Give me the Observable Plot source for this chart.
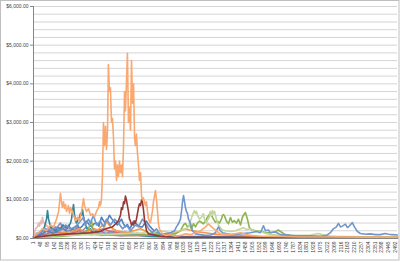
<!DOCTYPE html>
<html>
<head>
<meta charset="utf-8">
<script src="https://cdn.jsdelivr.net/npm/d3@7"></script>
<script src="https://cdn.jsdelivr.net/npm/@observablehq/plot@0.6"></script>
<style>
  html, body { margin: 0; padding: 0; background: #ffffff; }
  #chart { width: 400px; height: 262px; }
</style>
</head>
<body>
<div id="chart"></div>
<script>
// ---- Data: [category, value] pairs ----
const categoryCount = 2505;
const xTickLabels = [1,48,95,142,189,236,283,330,377,424,471,518,565,612,659,706,753,800,847,894,941,988,1035,1082,1129,1176,1223,1270,1317,1364,1411,1458,1505,1552,1599,1646,1693,1740,1787,1834,1881,1928,1975,2022,2069,2116,2163,2210,2257,2304,2351,2398,2445,2492];
const yTickLabels = [0,1000,2000,3000,4000,5000,6000];
const yGridValues = [200,400,600,800,1000,1200,1400,1600,1800,2000,2200,2400,2600,2800,3000,3200,3400,3600,3800,4000,4200,4400,4600,4800,5000,5200,5400,5600,5800,6000];

const paleBlue = [[1,40],[21,70],[42,110],[63,90],[84,140],[105,80],[126,120],[147,90],[168,160],[189,110],[210,150],[231,100],[252,130],[273,90],[294,140],[315,110],[336,160],[357,100],[378,130],[399,80],[420,120],[441,90],[462,140],[483,100],[504,120],[525,80],[546,130],[567,90],[588,110],[609,70],[630,100],[651,80],[672,110],[693,70],[735,90],[777,60],[819,70],[874,50],[1012,40],[1562,30],[2505,20]];
const lavender = [[1,80],[21,150],[42,120],[63,200],[84,160],[105,250],[126,180],[147,220],[168,150],[189,260],[210,200],[231,300],[252,180],[273,240],[294,160],[315,260],[336,200],[357,150],[378,230],[399,180],[420,250],[441,170],[462,210],[483,140],[504,200],[525,160],[546,230],[567,140],[588,180],[609,120],[630,200],[651,150],[672,180],[693,110],[714,150],[735,100],[756,140],[777,90],[798,120],[819,80],[840,100],[861,60],[900,50],[1012,40],[1562,30],[2505,20]];
const aqua = [[1,60],[21,120],[42,90],[63,180],[84,130],[105,100],[126,170],[147,120],[168,220],[189,150],[210,200],[231,130],[252,250],[273,180],[294,280],[315,150],[336,200],[357,120],[378,230],[399,160],[420,120],[441,190],[462,140],[483,200],[504,130],[525,170],[546,100],[567,150],[588,90],[609,140],[630,170],[651,100],[672,130],[693,80],[714,110],[735,70],[777,90],[819,60],[874,50],[1149,40],[2505,20]];
const pink = [[1,100],[14,250],[28,300],[35,400],[42,320],[49,450],[56,380],[62,550],[69,420],[76,400],[83,300],[90,350],[104,280],[118,320],[133,220],[152,260],[168,180],[186,300],[203,200],[221,250],[245,170],[269,210],[296,140],[324,200],[351,120],[379,150],[420,100],[461,80],[530,90],[599,60],[700,70],[805,40],[2505,20]];
const purple = [[1,40],[21,100],[35,150],[49,120],[62,250],[76,180],[90,200],[104,150],[118,300],[135,220],[152,250],[170,320],[186,400],[200,280],[214,300],[228,220],[241,350],[255,260],[269,250],[286,200],[303,300],[320,220],[338,200],[358,280],[379,250],[400,180],[420,150],[440,220],[461,200],[482,150],[503,120],[527,180],[551,150],[578,120],[606,100],[637,140],[668,120],[700,90],[737,80],[770,70],[805,60],[943,40],[2505,20]];
const red = [[1,30],[35,80],[76,100],[110,150],[152,180],[196,140],[241,120],[280,160],[317,200],[358,130],[400,150],[440,200],[482,250],[515,200],[551,180],[590,140],[633,120],[690,130],[737,100],[800,80],[874,60],[1149,40],[2505,25]];
const teal = [[1,50],[35,100],[49,150],[62,200],[76,300],[83,400],[90,500],[97,720],[104,500],[111,400],[118,300],[135,250],[152,200],[170,280],[186,250],[203,350],[221,300],[238,280],[255,400],[262,500],[269,700],[276,880],[283,600],[290,450],[296,400],[303,450],[310,500],[317,550],[324,650],[331,600],[338,750],[345,550],[351,450],[358,350],[368,280],[379,200],[393,250],[406,150],[430,180],[461,100],[530,120],[599,80],[700,90],[805,60],[1149,40],[2505,30]];
const blueDark = [[1,40],[35,80],[62,120],[83,180],[104,200],[128,140],[152,150],[180,230],[207,250],[230,180],[255,200],[280,280],[303,350],[317,260],[331,300],[348,380],[365,450],[383,360],[400,300],[417,380],[434,400],[451,320],[468,550],[482,460],[496,400],[510,480],[523,600],[537,520],[551,450],[565,400],[578,350],[592,430],[606,500],[620,380],[633,300],[647,360],[661,250],[675,330],[689,450],[702,400],[716,350],[733,300],[750,300],[764,380],[778,450],[792,360],[805,300],[819,240],[833,200],[847,160],[860,120],[909,80],[1012,60],[1184,50],[1562,40],[2505,30]];
const orange = [[1,20],[62,60],[118,80],[160,120],[207,150],[250,180],[290,200],[317,260],[345,150],[380,200],[413,250],[445,220],[475,350],[490,300],[503,450],[516,380],[530,300],[550,250],[572,200],[605,180],[640,150],[690,200],[737,250],[765,200],[792,150],[830,130],[874,100],[920,120],[977,150],[1012,200],[1046,250],[1074,220],[1101,200],[1140,170],[1184,150],[1230,120],[1287,100],[1390,80],[1493,60],[2505,30]];
const green = [[1,30],[186,50],[324,100],[379,250],[393,400],[400,460],[406,300],[420,150],[461,100],[668,80],[874,100],[977,120],[1012,200],[1033,350],[1046,390],[1060,300],[1074,350],[1088,250],[1101,380],[1115,300],[1129,400],[1143,450],[1156,420],[1170,380],[1184,450],[1198,550],[1211,620],[1218,680],[1225,600],[1239,500],[1253,420],[1266,450],[1280,400],[1294,500],[1301,600],[1308,620],[1315,580],[1328,450],[1342,380],[1356,540],[1369,420],[1383,460],[1397,400],[1411,500],[1425,350],[1438,550],[1452,640],[1459,670],[1473,500],[1486,280],[1500,230],[1528,200],[1562,200],[1597,150],[1631,150],[1666,180],[1686,220],[1700,180],[1734,100],[1769,80],[1837,60],[2044,50],[2505,40]];
const lightGreen = [[1,30],[186,80],[393,100],[599,120],[805,150],[874,200],[943,150],[1012,200],[1046,250],[1067,300],[1081,450],[1094,600],[1108,720],[1115,650],[1122,700],[1129,600],[1143,500],[1156,550],[1170,640],[1177,500],[1191,400],[1198,470],[1211,550],[1218,700],[1225,600],[1232,720],[1239,640],[1246,700],[1253,600],[1259,500],[1273,350],[1287,280],[1301,220],[1321,200],[1356,180],[1390,200],[1425,250],[1445,280],[1466,230],[1493,250],[1528,180],[1562,200],[1583,150],[1631,100],[1700,80],[1769,60],[1837,80],[1906,90],[1961,130],[1989,100],[2044,60],[2113,40],[2505,30]];
const blue = [[1,50],[49,150],[83,250],[118,200],[152,300],[186,200],[221,350],[255,250],[290,300],[324,450],[345,550],[358,350],[379,500],[393,400],[413,600],[434,350],[461,450],[482,300],[503,500],[530,350],[558,500],[585,400],[613,250],[640,350],[668,200],[702,350],[723,300],[750,500],[771,400],[792,250],[819,150],[847,250],[874,100],[909,120],[943,150],[971,200],[984,300],[998,380],[1012,500],[1019,700],[1026,950],[1033,1110],[1040,950],[1046,800],[1053,700],[1060,650],[1067,500],[1074,450],[1081,380],[1088,300],[1094,200],[1115,120],[1149,100],[1184,80],[1218,90],[1253,150],[1273,300],[1287,200],[1301,150],[1356,100],[1425,120],[1493,150],[1535,180],[1562,150],[1583,330],[1597,200],[1617,220],[1631,150],[1666,170],[1700,100],[1769,80],[1837,70],[1906,70],[1975,60],[2017,80],[2044,150],[2064,250],[2085,300],[2099,390],[2113,300],[2126,320],[2147,370],[2161,280],[2175,330],[2195,410],[2209,300],[2230,180],[2250,130],[2285,110],[2319,120],[2354,100],[2388,100],[2422,130],[2443,110],[2470,100],[2505,90]];
const darkRed = [[1,30],[118,80],[255,120],[393,150],[461,180],[496,250],[544,300],[572,400],[585,460],[599,600],[606,800],[613,750],[620,950],[627,900],[633,1100],[640,1000],[647,850],[654,700],[661,500],[668,450],[675,350],[682,400],[689,350],[696,450],[702,400],[709,500],[716,650],[723,800],[730,900],[737,850],[744,1000],[750,950],[757,750],[764,500],[771,350],[778,200],[792,120],[819,100],[874,60],[943,40],[1149,30],[2505,20]];
const lightOrange = [[1,50],[35,150],[62,250],[90,200],[118,350],[138,300],[159,500],[173,700],[179,900],[186,1170],[193,950],[200,800],[207,950],[214,780],[221,880],[228,700],[241,850],[248,650],[255,800],[269,700],[276,600],[290,460],[303,550],[317,450],[331,700],[345,1030],[351,850],[365,700],[379,770],[393,600],[406,640],[420,560],[434,700],[448,800],[455,950],[461,850],[468,1000],[475,1600],[482,3000],[489,2400],[496,2900],[503,2300],[510,2800],[516,4500],[523,3800],[530,3900],[537,3000],[544,3100],[551,2600],[558,1800],[565,2000],[572,1500],[578,1900],[585,1600],[592,2000],[599,1700],[606,1900],[613,1600],[620,2400],[627,3800],[633,3300],[640,4000],[647,4790],[654,3000],[661,3400],[668,2800],[675,4600],[682,3500],[689,4000],[696,2600],[702,2400],[709,2700],[716,2200],[723,1900],[730,1500],[737,1700],[744,1100],[750,1000],[757,1050],[771,850],[778,950],[785,700],[792,500],[805,400],[812,550],[819,700],[826,950],[833,1100],[840,1240],[847,1000],[854,700],[860,400],[867,250],[874,200],[888,120],[909,80],[943,100],[977,60],[1012,80],[1046,120],[1081,100],[1115,150],[1149,200],[1184,300],[1204,380],[1232,280],[1259,200],[1287,120],[1356,100],[1425,150],[1493,80],[1562,60],[1700,50],[1837,40],[2044,40],[2250,35],[2505,35]];

// ---- Styles (drawing order: first drawn = bottom) ----
const seriesStyles = [
  [paleBlue, "#B9CDE5"],
  [lavender, "#CCC1DA"],
  [aqua, "#93CDDD"],
  [pink, "#E6B9B8"],
  [purple, "#9983B5"],
  [red, "#CD7371"],
  [teal, "#31859C"],
  [blueDark, "#4F81BD"],
  [orange, "#F79646"],
  [green, "#8DB44E"],
  [lightGreen, "#C3D69B"],
  [blue, "#7096CC"],
  [darkRed, "#953735"],
  [lightOrange, "#F9A870"]
];

const lineMarks = seriesStyles.map(([data, color]) =>
  Plot.line(data, {x: d => d[0], y: d => d[1], stroke: color, strokeWidth: 1.6, strokeLinejoin: "round"})
);

const svg = Plot.plot({
  width: 400,
  height: 262,
  marginLeft: 33,
  marginRight: 3,
  marginTop: 6,
  marginBottom: 24,
  style: {fontFamily: "Liberation Sans, Arial, sans-serif", fontSize: "5px", color: "#404040", background: "#ffffff"},
  x: {type: "linear", domain: [0.5, categoryCount + 0.5]},
  y: {domain: [0, 6000]},
  marks: [
    Plot.ruleY(yGridValues, {stroke: "#D4D4D4", strokeWidth: 1}),
    ...lineMarks,
    Plot.ruleY([0], {stroke: "#868686", strokeWidth: 1}),
    Plot.ruleX([0.5], {stroke: "#868686", strokeWidth: 1}),
    Plot.axisY({ticks: yTickLabels, tickFormat: d => "$" + d3.format(",.2f")(d), tickSize: 3, tickPadding: 2, stroke: "#868686", label: null, fill: "#404040"}),
    Plot.axisX({ticks: xTickLabels, tickFormat: d => String(d), tickRotate: -90, tickSize: 0, tickPadding: 3, label: null, fill: "#404040"})
  ]
});

d3.select(svg).append("rect")
  .attr("x", 0.5).attr("y", 0.5)
  .attr("width", 398.5).attr("height", 259.5)
  .attr("fill", "none").attr("stroke", "#BFBFBF");

document.getElementById("chart").appendChild(svg);
</script>
</body>
</html>
